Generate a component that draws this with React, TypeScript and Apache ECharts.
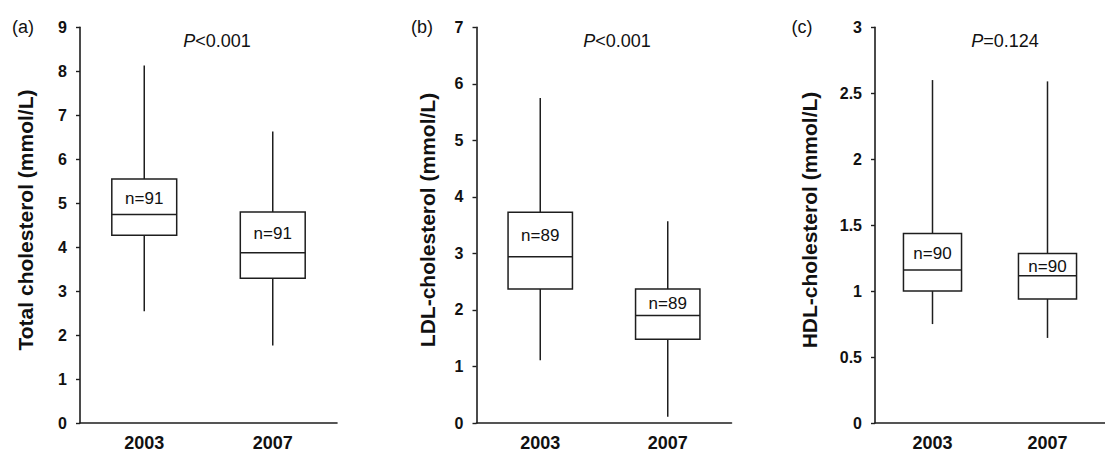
import React, { useEffect, useRef } from "react";
import * as echarts from "echarts";

// ---- data ----
const years = ["2003", "2007"];
// [lower whisker, Q1, median, Q3, upper whisker]
const totalStats = [
  [2.54, 4.27, 4.74, 5.55, 8.13],
  [1.76, 3.29, 3.87, 4.8, 6.63],
];
const ldlStats = [
  [1.11, 2.37, 2.94, 3.73, 5.75],
  [0.11, 1.48, 1.9, 2.37, 3.57],
];
const hdlStats = [
  [0.75, 1.0, 1.16, 1.436, 2.6],
  [0.645, 0.94, 1.117, 1.285, 2.59],
];
const totalN = ["n=91", "n=91"];
const ldlN = ["n=89", "n=89"];
const hdlN = ["n=90", "n=90"];
const yMaxes = [9, 7, 3];
const yIntervals = [1, 1, 0.5];
const yNames = [
  "Total cholesterol (mmol/L)",
  "LDL-cholesterol (mmol/L)",
  "HDL-cholesterol (mmol/L)",
];
const panelTags = ["(a)", "(b)", "(c)"];
const pValues = ["<0.001", "<0.001", "=0.124"];

const FONT = "'Liberation Sans', Arial, Helvetica, sans-serif";
const INK = "#1e1e1e";

const panels = [
  { stats: totalStats, n: totalN, left: 80, width: 257, nameX: 25, tagX: 23, pX: 217 },
  { stats: ldlStats, n: ldlN, left: 476.5, width: 255, nameX: 427, tagX: 422, pX: 617 },
  { stats: hdlStats, n: hdlN, left: 875, width: 241, nameX: 809, tagX: 802, pX: 1005 },
];

const GRID_TOP = 27.3;
const GRID_H = 398.4;

export default function App() {
  const ref = useRef<HTMLDivElement>(null);

  useEffect(() => {
    if (!ref.current) return;
    const chart = echarts.init(ref.current, null, { renderer: "svg" });

    const grid = panels.map((p) => ({
      left: p.left,
      top: GRID_TOP,
      width: p.width,
      height: GRID_H,
      containLabel: false,
    }));

    const xAxis = panels.map((p, i) => ({
      type: "category",
      gridIndex: i,
      data: years,
      boundaryGap: true,
      axisLine: { show: true, lineStyle: { color: INK, width: 1.6 } },
      axisTick: { show: false },
      axisLabel: {
        margin: 11,
        color: "#111",
        fontFamily: FONT,
        fontWeight: "bold",
        fontSize: 18,
      },
      splitLine: { show: false },
    }));

    const yAxis = panels.map((p, i) => ({
      type: "value",
      gridIndex: i,
      min: 0,
      max: yMaxes[i],
      interval: yIntervals[i],
      axisLine: { show: true, lineStyle: { color: INK, width: 1.6 } },
      axisTick: { show: true, inside: false, length: 4, lineStyle: { color: INK, width: 1.4 } },
      axisLabel: {
        margin: 13,
        color: "#111",
        fontFamily: FONT,
        fontWeight: "bold",
        fontSize: 16,
      },
      splitLine: { show: false },
    }));

    const series = panels.map((p, i) => ({
      type: "custom",
      xAxisIndex: i,
      yAxisIndex: i,
      clip: false,
      encode: { x: 0, y: [1, 2, 3, 4, 5] },
      data: p.stats.map((s, k) => [k, ...s]),
      renderItem: (params: any, api: any) => {
        const cat = api.value(0);
        const cx = api.coord([cat, 0])[0];
        const yLow = api.coord([cat, api.value(1)])[1];
        const yQ1 = api.coord([cat, api.value(2)])[1];
        const yMed = api.coord([cat, api.value(3)])[1];
        const yQ3 = api.coord([cat, api.value(4)])[1];
        const yHigh = api.coord([cat, api.value(5)])[1];
        const w = api.size([1, 0])[0] * 0.505;
        const ls = { stroke: INK, lineWidth: 1.5 };
        return {
          type: "group",
          children: [
            { type: "line", shape: { x1: cx, y1: yHigh, x2: cx, y2: yQ3 }, style: ls },
            { type: "line", shape: { x1: cx, y1: yQ1, x2: cx, y2: yLow }, style: ls },
            {
              type: "rect",
              shape: { x: cx - w / 2, y: yQ3, width: w, height: yQ1 - yQ3 },
              style: { fill: "#fff", stroke: INK, lineWidth: 1.5 },
            },
            { type: "line", shape: { x1: cx - w / 2, y1: yMed, x2: cx + w / 2, y2: yMed }, style: ls },
            {
              type: "text",
              x: cx,
              y: (yQ3 + yMed) / 2 + 1.5,
              style: {
                text: p.n[params.dataIndex],
                fill: "#111",
                font: `17px ${FONT}`,
                align: "center",
                verticalAlign: "middle",
              },
            },
          ],
        };
      },
    }));

    const graphic: any[] = [];
    panels.forEach((p, i) => {
      graphic.push({
        type: "text",
        x: p.nameX,
        y: 220,
        rotation: Math.PI / 2,
        style: {
          text: yNames[i],
          fill: "#111",
          font: `bold 21px ${FONT}`,
          align: "center",
          verticalAlign: "middle",
        },
      });
      graphic.push({
        type: "text",
        x: p.tagX,
        y: 27,
        style: {
          text: panelTags[i],
          fill: "#111",
          font: `18px ${FONT}`,
          align: "center",
          verticalAlign: "middle",
        },
      });
      graphic.push({
        type: "text",
        x: p.pX,
        y: 41,
        style: {
          text: `{i|P}{r|${pValues[i]}}`,
          align: "center",
          verticalAlign: "middle",
          rich: {
            i: { fontStyle: "italic", fontSize: 18, fontFamily: FONT, fill: "#111" },
            r: { fontSize: 18, fontFamily: FONT, fill: "#111" },
          },
        },
      });
    });

    chart.setOption({
      animation: false,
      backgroundColor: "#fff",
      grid,
      xAxis,
      yAxis,
      series,
      graphic,
    } as any);

    return () => chart.dispose();
  }, []);

  return (
    <div
      ref={ref}
      style={{ position: "absolute", left: 0, top: 0, width: 1105, height: 452 }}
    />
  );
}
